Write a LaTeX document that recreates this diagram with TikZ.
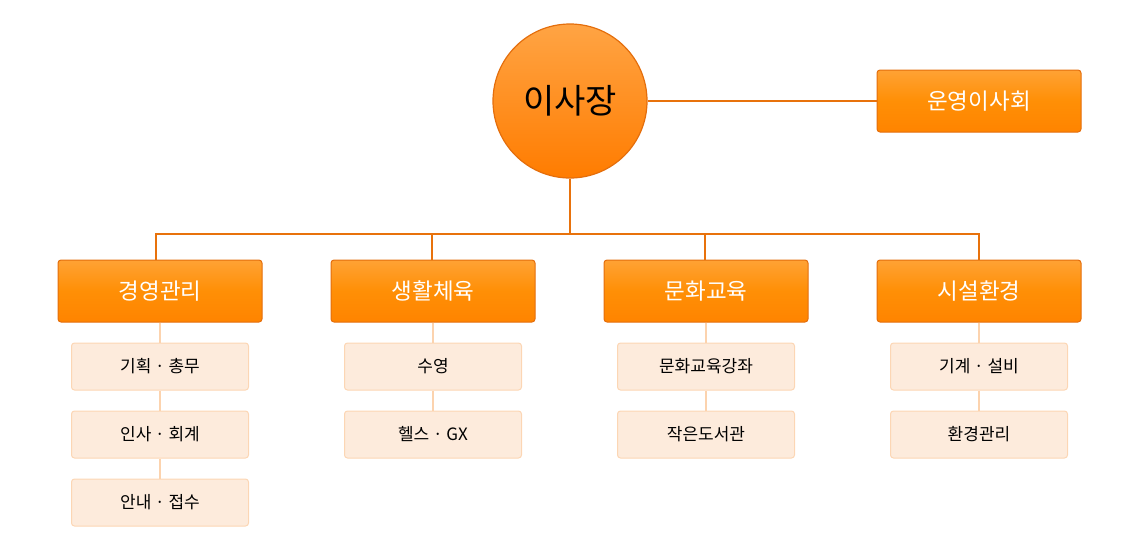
\documentclass[tikz,border=0pt]{standalone}
\usepackage{fontspec}
\setmainfont{Noto Sans CJK KR}
\usetikzlibrary{positioning}
\definecolor{ln}{HTML}{E8720C}
\definecolor{ob}{HTML}{E46E0C}
\definecolor{otop}{HTML}{FFA234}
\definecolor{omid}{HTML}{FF8F06}
\definecolor{obot}{HTML}{FF8400}
\definecolor{ctop}{HTML}{FFA444}
\definecolor{cbot}{HTML}{FF7C00}
\definecolor{sfill}{HTML}{FDEBDC}
\definecolor{sbord}{HTML}{FCD6B4}
\definecolor{sln}{HTML}{FCD3AE}
\tikzset{
  mainbox/.style={draw=ob, line width=1pt, rounded corners=3pt, minimum width=204pt, minimum height=62pt, inner sep=0pt,
    top color=otop, bottom color=obot, middle color=omid, text=white, font=\fontsize{22.5}{26}\selectfont},
  subbox/.style={draw=sbord, line width=1pt, fill=sfill, rounded corners=3pt, minimum width=177pt, minimum height=47pt, inner sep=0pt,
    text=black, font=\fontsize{17}{20}\selectfont},
  ceostyle/.style={circle, draw=ob, line width=1.2pt, minimum size=154pt, inner sep=0pt, top color=ctop, bottom color=cbot,
    font=\fontsize{34}{40}\selectfont},
  conn/.style={draw=ln, line width=2pt},
  subconn/.style={draw=sln, line width=2pt}
}
\begin{document}
\begin{tikzpicture}[x=1pt,y=-1pt]
\useasboundingbox (0,0) rectangle (1140,550);
\node[ceostyle] (ceo) at (570,101) {이사장};
\node[mainbox] (board) at (979,101) {운영이사회};
\node[mainbox] (g1) at (160,291) {경영관리};
\node[mainbox] (g2) at (433,291) {생활체육};
\node[mainbox] (g3) at (706,291) {문화교육};
\node[mainbox] (g4) at (979,291) {시설환경};
\node[subbox] (s11) at (160,366.5) {기획 · 총무};
\node[subbox] (s12) at (160,434.5) {인사 · 회계};
\node[subbox] (s13) at (160,502.5) {안내 · 접수};
\node[subbox] (s21) at (433,366.5) {수영};
\node[subbox] (s22) at (433,434.5) {헬스 · GX};
\node[subbox] (s31) at (706,366.5) {문화교육강좌};
\node[subbox] (s32) at (706,434.5) {작은도서관};
\node[subbox] (s41) at (979,366.5) {기계 · 설비};
\node[subbox] (s42) at (979,434.5) {환경관리};
\coordinate (bus) at (570,234);
\draw[conn] (ceo.east) -- (board.west);
\draw[conn] (ceo.south) -- (bus);
\draw[conn] (bus) -| ([xshift=-4pt]g1.north);
\draw[conn] (bus) -| ([xshift=-1pt]g2.north);
\draw[conn] (bus) -| ([xshift=-1pt]g3.north);
\draw[conn] (bus) -| (g4.north);
\draw[subconn] (g1.south) -- (s11.north);
\draw[subconn] (s11.south) -- (s12.north);
\draw[subconn] (s12.south) -- (s13.north);
\draw[subconn] (g2.south) -- (s21.north);
\draw[subconn] (s21.south) -- (s22.north);
\draw[subconn] (g3.south) -- (s31.north);
\draw[subconn] (s31.south) -- (s32.north);
\draw[subconn] (g4.south) -- (s41.north);
\draw[subconn] (s41.south) -- (s42.north);
\end{tikzpicture}
\end{document}
